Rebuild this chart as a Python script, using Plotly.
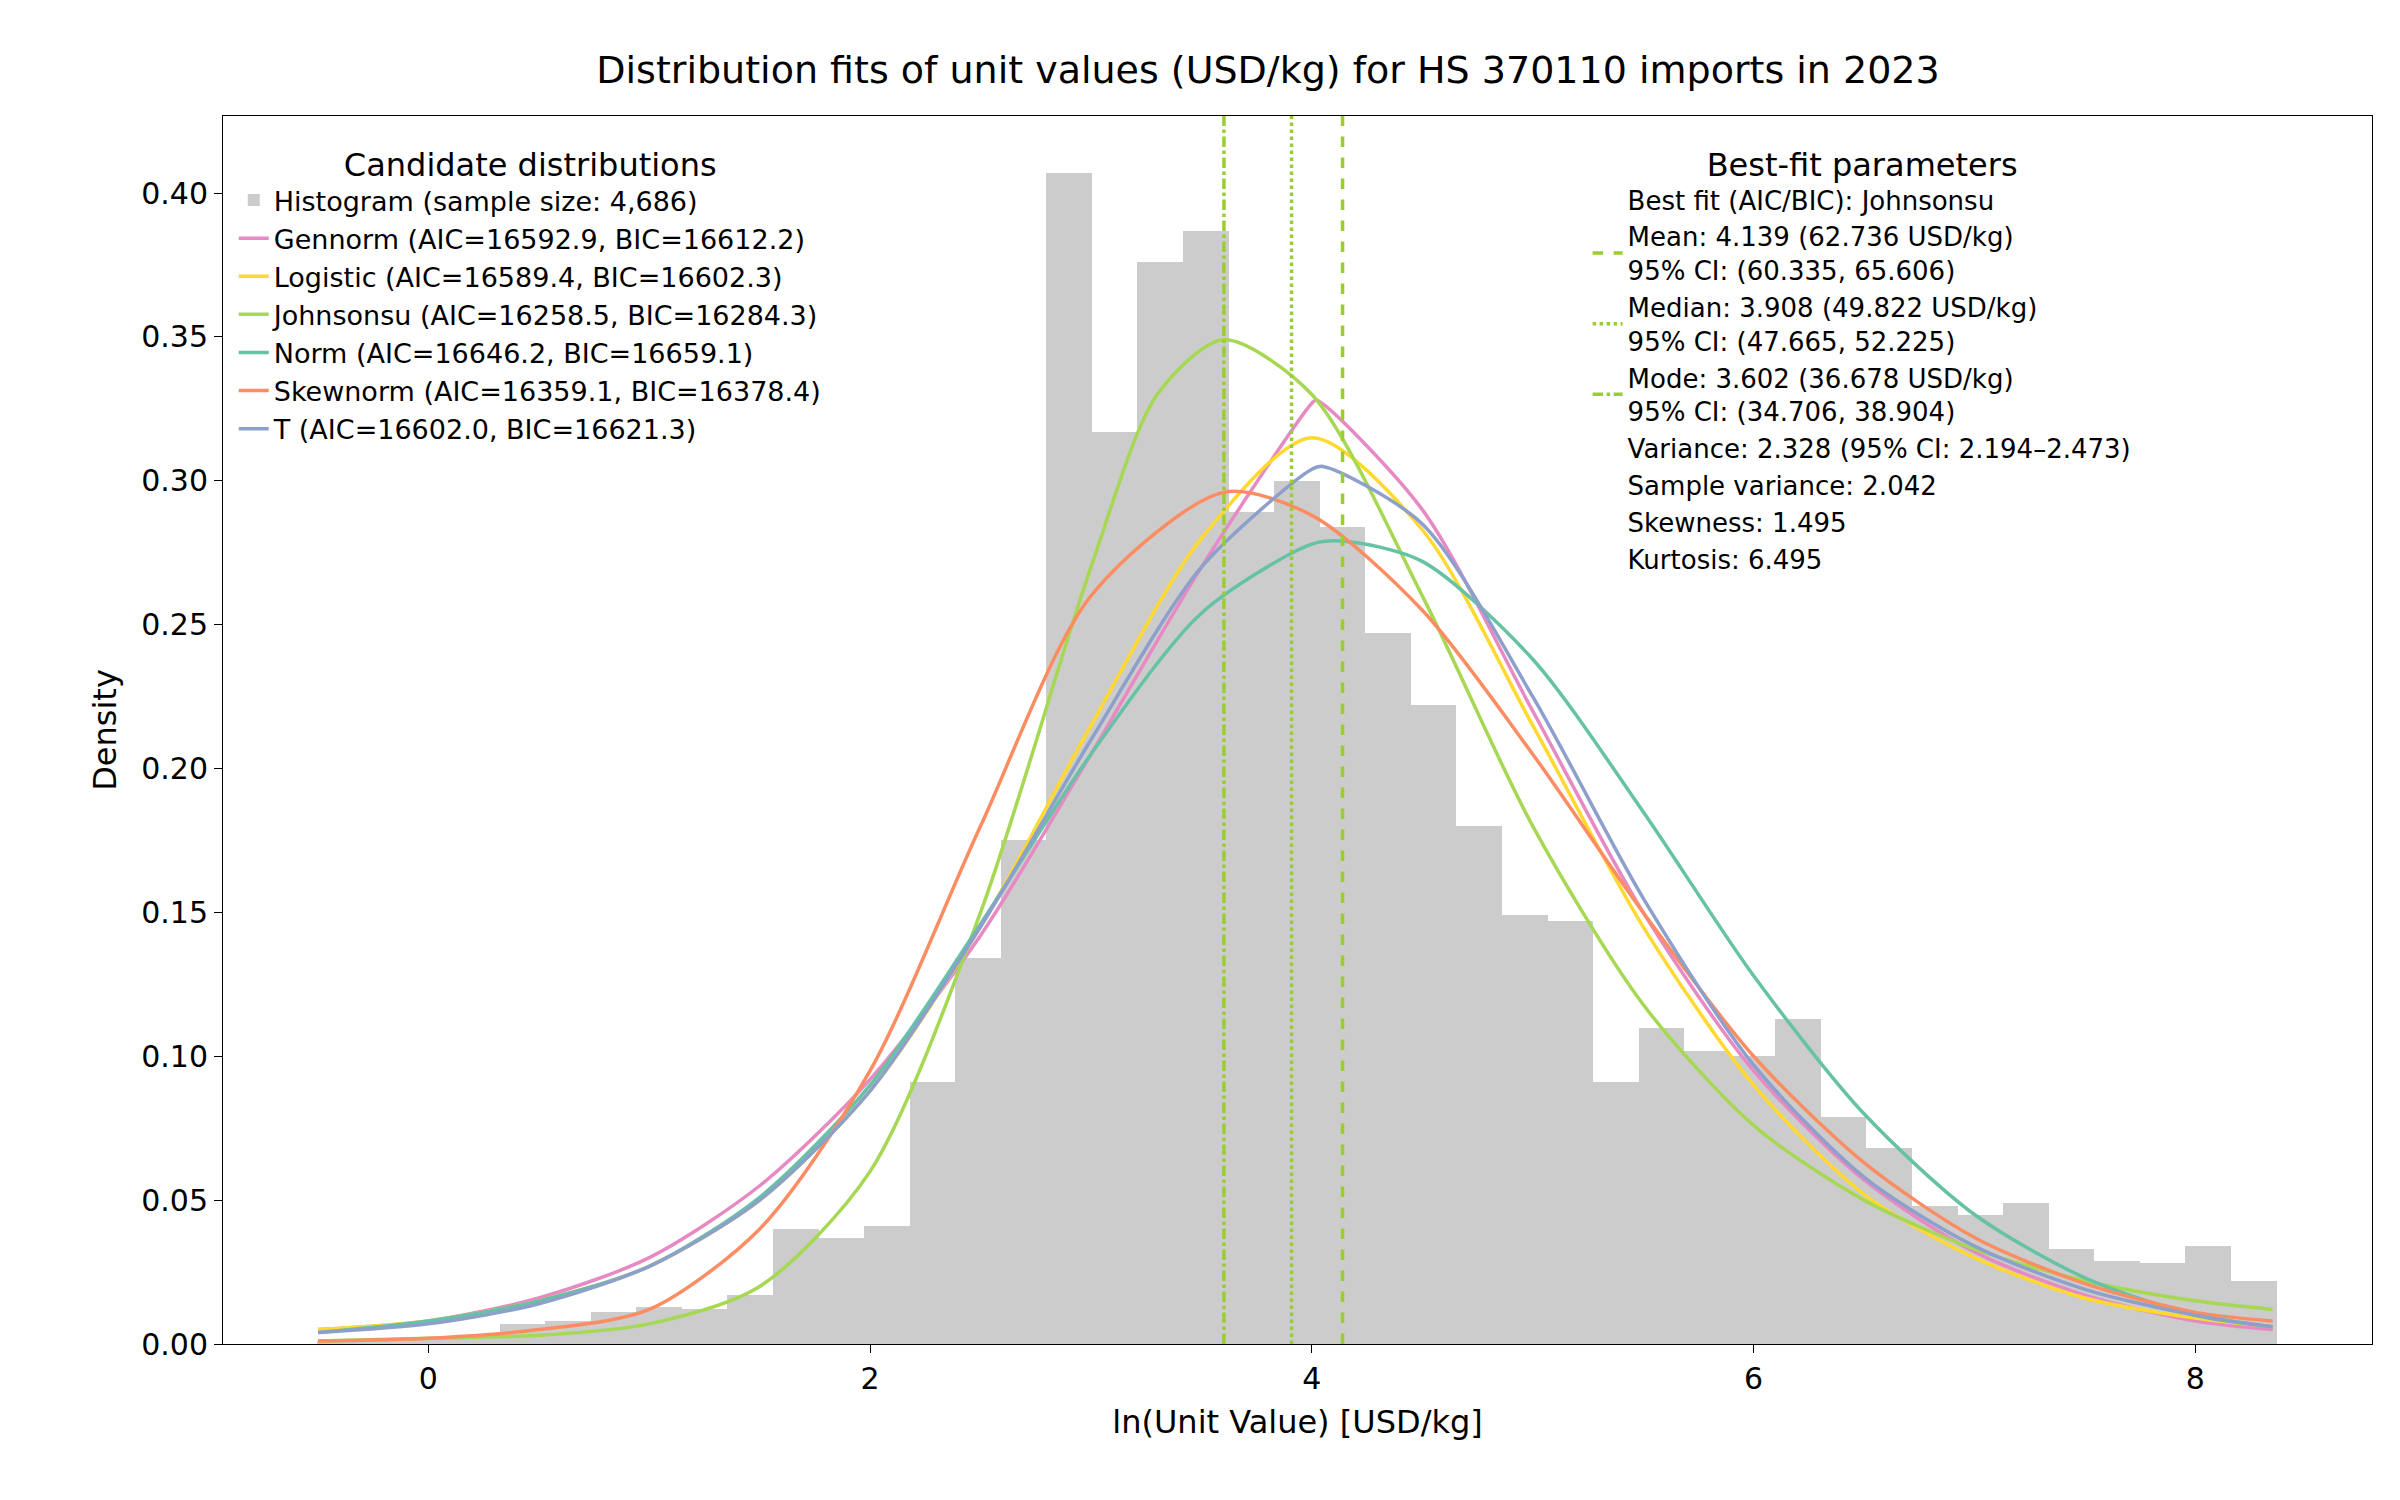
import numpy as np
import plotly.graph_objects as go

# histogram (density)
bin_left = -0.503
bin_width = 0.2063
hist_density = [0.001, 0.001, 0.002, 0.003, 0.007, 0.008, 0.011, 0.013, 0.012, 0.017,
                0.040, 0.037, 0.041, 0.091, 0.134, 0.175, 0.407, 0.317, 0.376, 0.387,
                0.289, 0.300, 0.284, 0.247, 0.222, 0.180, 0.149, 0.147, 0.091, 0.110,
                0.102, 0.100, 0.113, 0.079, 0.068, 0.048, 0.045, 0.049, 0.033, 0.029,
                0.028, 0.034, 0.022]

x_pts = [-0.5, 0, 0.5, 1, 1.5, 2, 2.5, 3, 3.5, 4, 4.5, 5, 5.5, 6, 6.5, 7, 7.5, 8, 8.35]

gennorm_x = x_pts[:10] + [4.02] + x_pts[10:]
gennorm_y = [0.005, 0.008, 0.016, 0.030, 0.055, 0.092, 0.142, 0.205, 0.270, 0.327, 0.328,
             0.290, 0.220, 0.150, 0.095, 0.057, 0.032, 0.017, 0.008, 0.005]
logistic_y = [0.005, 0.008, 0.015, 0.027, 0.050, 0.088, 0.145, 0.215, 0.280, 0.315,
              0.283, 0.215, 0.145, 0.090, 0.052, 0.030, 0.016, 0.009, 0.006]
johnsonsu_x = [-0.5, 0, 0.5, 1, 1.5, 2, 2.5, 3, 3.3, 3.6, 4, 4.5, 5, 5.5, 6, 6.5, 7, 7.5, 8, 8.35]
johnsonsu_y = [0.001, 0.002, 0.003, 0.007, 0.020, 0.060, 0.150, 0.270, 0.330, 0.349, 0.330,
               0.260, 0.180, 0.118, 0.076, 0.050, 0.033, 0.022, 0.015, 0.012]
norm_x = x_pts[:10] + [4.15] + x_pts[10:]
norm_y = [0.004, 0.008, 0.015, 0.027, 0.051, 0.090, 0.146, 0.205, 0.254, 0.278, 0.279,
          0.272, 0.238, 0.185, 0.128, 0.080, 0.045, 0.023, 0.010, 0.006]
skewnorm_x = [-0.5, 0, 0.5, 1, 1.5, 2, 2.5, 3, 3.6, 4, 4.5, 5, 5.5, 6, 6.5, 7, 7.5, 8, 8.35]
skewnorm_y = [0.001, 0.002, 0.005, 0.012, 0.040, 0.095, 0.180, 0.260, 0.296, 0.288,
              0.255, 0.205, 0.150, 0.100, 0.063, 0.037, 0.021, 0.011, 0.008]
t_x = x_pts[:10] + [4.05] + x_pts[10:]
t_y = [0.004, 0.007, 0.014, 0.027, 0.050, 0.088, 0.145, 0.210, 0.270, 0.304, 0.305,
       0.285, 0.225, 0.155, 0.097, 0.058, 0.034, 0.019, 0.010, 0.006]

mean_val, median_val, mode_val = 4.139, 3.908, 3.602

font = "DejaVu Sans"
fig = go.Figure()

edges = bin_left + bin_width * np.arange(len(hist_density))
fig.add_trace(go.Bar(x=edges + bin_width / 2, y=hist_density, width=bin_width,
                     marker=dict(color="#cccccc", line=dict(width=0)),
                     name="Histogram (sample size: 4,686)", legend="legend"))

curves = [
    ("Gennorm (AIC=16592.9, BIC=16612.2)", gennorm_x, gennorm_y, "#e78ac3"),
    ("Logistic (AIC=16589.4, BIC=16602.3)", x_pts, logistic_y, "#ffd92f"),
    ("Johnsonsu (AIC=16258.5, BIC=16284.3)", johnsonsu_x, johnsonsu_y, "#a6d854"),
    ("Norm (AIC=16646.2, BIC=16659.1)", norm_x, norm_y, "#66c2a5"),
    ("Skewnorm (AIC=16359.1, BIC=16378.4)", skewnorm_x, skewnorm_y, "#fc8d62"),
    ("T (AIC=16602.0, BIC=16621.3)", t_x, t_y, "#8da0cb"),
]
for name, xs, ys, c in curves:
    fig.add_trace(go.Scatter(x=xs, y=ys, mode="lines", name=name, legend="legend",
                             line=dict(color=c, width=3.5, shape="spline", smoothing=0.8)))

ymax = 0.4268
clear = dict(color="rgba(0,0,0,0)", width=0)
fig.add_trace(go.Scatter(x=[None], y=[None], mode="lines", line=clear,
                         name="Best fit (AIC/BIC): Johnsonsu", legend="legend2"))
for val, label, dash in [
    (mean_val, "Mean: 4.139 (62.736 USD/kg)<br>95% CI: (60.335, 65.606)", "dash"),
    (median_val, "Median: 3.908 (49.822 USD/kg)<br>95% CI: (47.665, 52.225)", "dot"),
    (mode_val, "Mode: 3.602 (36.678 USD/kg)<br>95% CI: (34.706, 38.904)", "dashdot"),
]:
    fig.add_trace(go.Scatter(x=[val, val], y=[0, ymax], mode="lines", name=label,
                             legend="legend2", line=dict(color="#9acd32", width=3.5, dash=dash)))
for label in ["Variance: 2.328 (95% CI: 2.194–2.473)", "Sample variance: 2.042",
              "Skewness: 1.495", "Kurtosis: 6.495"]:
    fig.add_trace(go.Scatter(x=[None], y=[None], mode="lines", line=clear,
                             name=label, legend="legend2"))

axis = dict(showline=True, linecolor="black", mirror=True, ticks="outside",
            ticklen=8, tickcolor="black", showgrid=False, zeroline=False,
            tickfont=dict(size=30))
fig.update_layout(
    width=2400, height=1500, plot_bgcolor="white", paper_bgcolor="white",
    font=dict(family=font, color="black", size=26),
    margin=dict(l=215, r=36, t=108, b=164),
    title=dict(text="Distribution fits of unit values (USD/kg) for HS 370110 imports in 2023",
               x=0.525, xanchor="center", y=0.968, font=dict(size=38)),
    xaxis=dict(axis, range=[-0.93, 8.80], tickvals=[0, 2, 4, 6, 8],
               title=dict(text="ln(Unit Value) [USD/kg]", font=dict(size=32))),
    yaxis=dict(axis, range=[0, ymax], tickvals=[0, 0.05, 0.1, 0.15, 0.2, 0.25, 0.3, 0.35, 0.4],
               tickformat=".2f", title=dict(text="Density", font=dict(size=32))),
    bargap=0,
    legend=dict(x=0.005, y=0.985, xanchor="left", yanchor="top", bgcolor="rgba(0,0,0,0)",
                title=dict(text="Candidate distributions", side="top center", font=dict(size=32)),
                font=dict(size=27)),
    legend2=dict(x=0.635, y=0.985, xanchor="left", yanchor="top", bgcolor="rgba(0,0,0,0)",
                 title=dict(text="Best-fit parameters", side="top center", font=dict(size=32)),
                 font=dict(size=26)),
)
fig.write_html("out.html")
